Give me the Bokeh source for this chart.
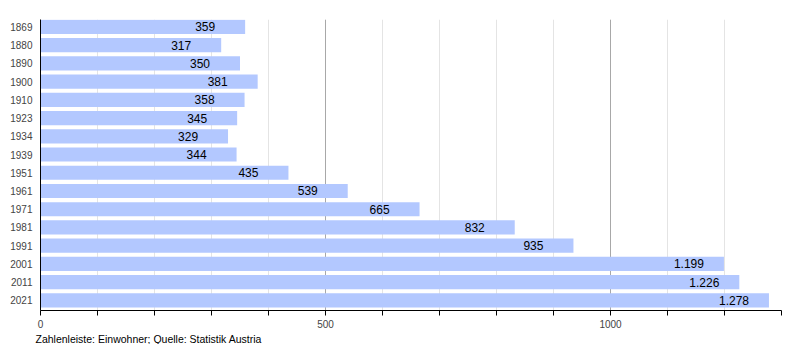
from bokeh.plotting import figure
from bokeh.models import ColumnDataSource, Range1d, FixedTicker, Grid, Title, LinearAxis
from bokeh.core.properties import value
from bokeh.embed import file_html
from bokeh.resources import INLINE

years = ["1869", "1880", "1890", "1900", "1910", "1923", "1934", "1939",
         "1951", "1961", "1971", "1981", "1991", "2001", "2011", "2021"]
population = [359, 317, 350, 381, 358, 345, 329, 344,
              435, 539, 665, 832, 935, 1199, 1226, 1278]
x_ticks = list(range(0, 1301, 100))
x_tick_labels = {0: "0", 500: "500", 1000: "1000"}
footer_text = "Zahlenleiste: Einwohner; Quelle: Statistik Austria"

BAR = "#b3c8ff"
FONT = "Liberation Sans"

idx = list(range(len(years)))
labels = [f"{v:,}".replace(",", ".") for v in population]
src = ColumnDataSource(dict(idx=idx, pop=population, lab=labels))

p = figure(width=784, height=344, output_backend="svg", toolbar_location=None,
           x_range=Range1d(0, 1300), y_range=Range1d(15.55, -0.40),
           min_border_left=40, min_border_right=3, min_border_top=19,
           min_border_bottom=0, x_axis_location=None, y_axis_location=None)
p.outline_line_color = None
p.background_fill_color = "white"
p.border_fill_color = "white"

# grids
p.xgrid.visible = False
p.ygrid.visible = False
p.add_layout(Grid(dimension=0, ticker=FixedTicker(ticks=x_ticks),
                  grid_line_color="#e4e4e4", grid_line_width=1))
p.add_layout(Grid(dimension=0, ticker=FixedTicker(ticks=[t for t in x_ticks if t in (500, 1000)]),
                  grid_line_color="#a8a8a8", grid_line_width=1))

p.hbar(y="idx", left=0, right="pop", height=0.78, source=src,
       fill_color=BAR, line_color=None)

p.text(x="pop", y="idx", text="lab", source=src, x_offset=-50,
       text_align="left", text_baseline="middle", text_font_size="12px",
       text_font=value(FONT), text_color="black")

# axes
xax = LinearAxis(ticker=FixedTicker(ticks=x_ticks),
                 major_label_overrides={t: x_tick_labels.get(t, "") for t in x_ticks})
xax.major_tick_in = 0
xax.major_tick_out = 5
xax.minor_tick_line_color = None
xax.axis_line_color = "black"
xax.major_tick_line_color = "black"
xax.major_label_text_font = FONT
xax.major_label_text_font_size = "10px"
xax.major_label_standoff = 4
p.add_layout(xax, "below")

yax = LinearAxis(ticker=FixedTicker(ticks=idx),
                 major_label_overrides={i: y for i, y in zip(idx, years)})
yax.major_tick_line_color = None
yax.minor_tick_line_color = None
yax.major_tick_in = 0
yax.major_tick_out = 0
yax.axis_line_color = "black"
yax.major_label_text_font = FONT
yax.major_label_text_font_size = "10px"
yax.major_label_standoff = 8
p.add_layout(yax, "left")

footer = Title(text=footer_text, align="left", offset=-5, standoff=0,
               text_font=FONT, text_font_size="10.5px", text_font_style="normal",
               text_color="black")
p.add_layout(footer, "below")

open("out.html", "w").write(file_html(p, INLINE))
